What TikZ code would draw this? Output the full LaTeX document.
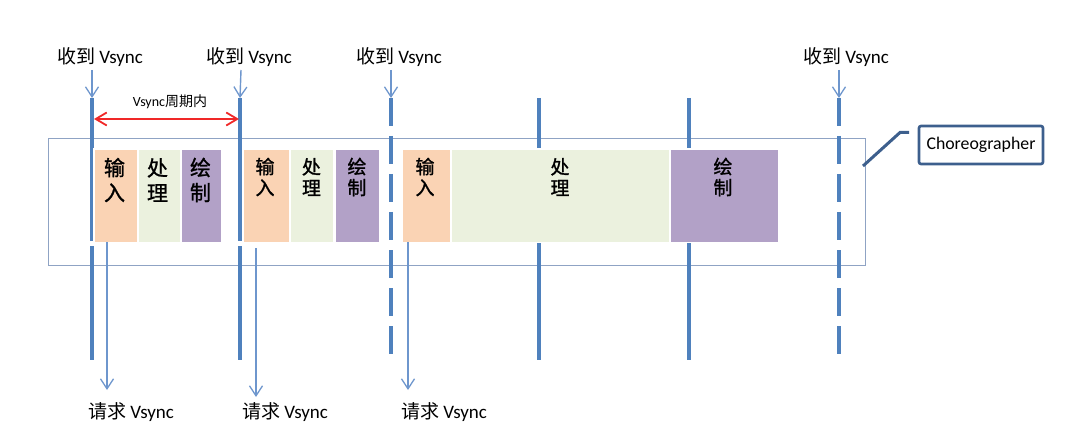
\documentclass[tikz,border=0pt]{standalone}
\usepackage{fontspec}
\setmainfont{Carlito}
\newfontfamily\cjk{Noto Sans CJK SC}
\newfontfamily\cjkb{Noto Sans CJK SC}[FakeBold=1.2]
\usetikzlibrary{arrows.meta}
\definecolor{vline}{RGB}{79,129,189}
\definecolor{arrc}{RGB}{110,150,205}
\definecolor{framec}{RGB}{143,163,196}
\definecolor{inpc}{RGB}{250,211,180}
\definecolor{procc}{RGB}{235,241,222}
\definecolor{paintc}{RGB}{178,161,199}
\definecolor{calc}{RGB}{61,95,141}
\definecolor{redc}{RGB}{240,40,40}
\begin{document}
\begin{tikzpicture}[x=1pt,y=-1pt,
  vsolid/.style={draw=vline,line width=4pt},
  vdash/.style={draw=vline,line width=4pt,dash pattern=on 28pt off 10pt},
  thinarr/.style={draw=arrc,line width=1.4pt,-{Straight Barb[length=10pt,width=13pt,line width=1.3pt]}},
  seg/.style={draw=white,line width=1.5pt,inner sep=0pt,anchor=north west,minimum height=93pt},
  segtxt/.style={align=center,inner sep=0pt,font=\cjkb\fontsize{19}{21}\selectfont},
  segtxtb/.style={align=center,inner sep=0pt,font=\cjkb\fontsize{21}{25}\selectfont},
  lab/.style={inner sep=0pt,font=\fontsize{19}{22}\selectfont}]
\useasboundingbox (0,0) rectangle (1080,441);
% frame
\node[draw=framec,line width=1.4pt,inner sep=0pt,anchor=north west,minimum width=817pt,minimum height=127pt] (frame) at (48,138) {};
% vertical lines
\coordinate (t1) at (92,98);  \coordinate (b1) at (92,360);
\coordinate (t2) at (240,98); \coordinate (b2) at (240,360);
\coordinate (t3) at (391,98); \coordinate (b3) at (391,354);
\coordinate (t4) at (539,98); \coordinate (b4) at (539,360);
\coordinate (t5) at (689,98); \coordinate (b5) at (689,360);
\coordinate (t6) at (839,98); \coordinate (b6) at (839,355);
\draw[vsolid] (t1) -- (b1);
\draw[vsolid] (t2) -- (b2);
\draw[vdash] (t3) -- (b3);
\draw[vsolid] (t4) -- (b4);
\draw[vsolid] (t5) -- (b5);
\draw[vdash] (t6) -- (b6);
% segments
\node[seg,fill=inpc,minimum width=44pt] (i1) at (93,148.5) {};
\node[seg,fill=procc,minimum width=43pt] (p1) at (137,148.5) {};
\node[seg,fill=paintc,minimum width=41pt] (d1) at (180,148.5) {};
\node[seg,fill=inpc,minimum width=47pt] (i2) at (242,148.5) {};
\node[seg,fill=procc,minimum width=44pt] (p2) at (289,148.5) {};
\node[seg,fill=paintc,minimum width=45pt] (d2) at (334,148.5) {};
\node[seg,fill=inpc,minimum width=49pt] (i3) at (401,148.5) {};
\node[seg,fill=procc,minimum width=219pt] (p3) at (450,148.5) {};
\node[seg,fill=paintc,minimum width=109pt] (d3) at (669,148.5) {};
\node[segtxtb] at (114.5,180) {输\\入};
\node[segtxtb] at (157.5,180) {处\\理};
\node[segtxtb] at (200.5,180) {绘\\制};
\node[segtxt] at (265,177) {输\\入};
\node[segtxt] at (311.5,177) {处\\理};
\node[segtxt] at (357,177) {绘\\制};
\node[segtxt] at (425,177) {输\\入};
\node[segtxt] at (560,177) {处\\理};
\node[segtxt] at (723,177) {绘\\制};
% white gaps on lines 1,2 below boxes
\fill[white] (89,241) rectangle (95,246);
\fill[white] (237,241) rectangle (243,246);
% receive labels and arrows
\node[lab] (r1) at (100,57) {{\cjk 收到} Vsync};
\node[lab] (r2) at (249,57) {{\cjk 收到} Vsync};
\node[lab] (r3) at (399,57) {{\cjk 收到} Vsync};
\node[lab] (r4) at (846,57) {{\cjk 收到} Vsync};
\draw[thinarr] (92,70) -- (t1);
\draw[thinarr] (241,70) -- (t2);
\draw[thinarr] (391,70) -- (t3);
\draw[thinarr] (839,70) -- (t6);
% request labels and arrows
\node[lab] (q1) at (131,412) {{\cjk 请求} Vsync};
\node[lab] (q2) at (285,412) {{\cjk 请求} Vsync};
\node[lab] (q3) at (444,412) {{\cjk 请求} Vsync};
\draw[thinarr] (107,242) -- (107,390);
\draw[thinarr] (256,248) -- (256,397);
\draw[thinarr] (408,242) -- (408,390);
% period arrow
\node[inner sep=0pt,font=\fontsize{14}{16}\selectfont] (per) at (170,102) {Vsync{\cjk 周期内}};
\draw[redc,line width=2pt,{Straight Barb[length=11pt,width=13pt,line width=1.8pt]}-{Straight Barb[length=11pt,width=13pt,line width=1.8pt]}] (94,119) -- (239,119);
% callout
\node[draw=calc,line width=2.6pt,rounded corners=2pt,minimum width=124pt,minimum height=38pt,inner sep=0pt,font=\fontsize{17.8}{20}\selectfont] (ch) at (981,145) {Choreographer};
\coordinate (c1) at (863,166);
\coordinate (c2) at (900,132.5);
\coordinate (c3) at (909,132.5);
\draw[calc,line width=3pt] (c1) -- (c2) -- (c3);
\end{tikzpicture}
\end{document}
